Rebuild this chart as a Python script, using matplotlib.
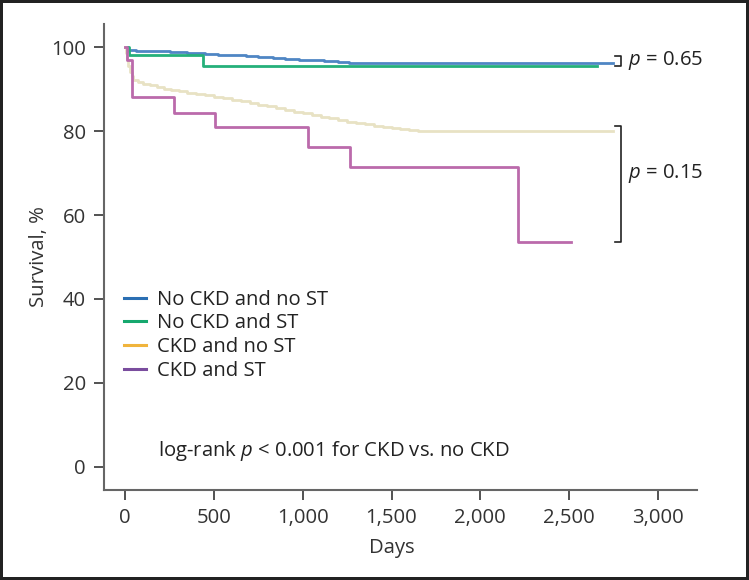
import matplotlib
matplotlib.use("Agg")
import matplotlib.pyplot as plt
from matplotlib.lines import Line2D

plt.rcParams['font.family'] = ['Open Sans', 'DejaVu Sans']
plt.rcParams['mathtext.fontset'] = 'custom'
plt.rcParams['mathtext.rm'] = 'Open Sans'
plt.rcParams['mathtext.it'] = 'Open Sans:italic'

# ---- data ----
labels = ["No CKD and no ST", "No CKD and ST", "CKD and no ST", "CKD and ST"]

blue_days = [0, 8, 15, 60, 150, 250, 350, 450, 520, 600, 680, 750, 830, 900, 980,
             1050, 1120, 1200, 1260, 1300, 2750]
blue_surv = [100, 99.5, 99.2, 99.1, 99.0, 98.8, 98.6, 98.4, 98.2, 98.0, 97.8, 97.6,
             97.4, 97.2, 97.0, 96.9, 96.7, 96.5, 96.3, 96.2, 96.2]

green_days = [0, 20, 440, 2655]
green_surv = [100, 98.1, 95.5, 95.5]

yellow_days = [0, 5, 10, 18, 25, 35, 45, 70, 100, 140, 180, 220, 260, 300, 350, 400,
               450, 500, 550, 600, 650, 700, 750, 800, 850, 900, 950, 1000, 1050,
               1100, 1150, 1200, 1250, 1300, 1350, 1400, 1450, 1500, 1550, 1600,
               1650, 1680, 2750]
yellow_surv = [100, 98.5, 97, 95.5, 94, 93, 92.1, 91.7, 91.3, 90.9, 90.5, 90.1,
               89.8, 89.5, 89.1, 88.8, 88.5, 88.2, 87.9, 87.5, 87.1, 86.7, 86.3,
               85.9, 85.4, 85.0, 84.6, 84.2, 83.8, 83.4, 83.0, 82.6, 82.2, 81.9,
               81.6, 81.3, 81.0, 80.7, 80.5, 80.3, 80.1, 80.0, 80.0]

purple_days = [0, 10, 37, 274, 505, 1028, 1265, 2212, 2510]
purple_surv = [100, 97, 88.0, 84.4, 80.9, 76.3, 71.5, 53.5, 53.5]

xticks = [0, 500, 1000, 1500, 2000, 2500, 3000]
xticklabels = ["0", "500", "1,000", "1,500", "2,000", "2,500", "3,000"]
yticks = [0, 20, 40, 60, 80, 100]

curve_colors = ["#4f86c4", "#25b07a", "#e8e2c4", "#bb6aab"]
legend_colors = ["#2b6fb3", "#16a86e", "#f0b43c", "#7a4d9e"]

FS = 14.6

# ---- figure ----
fig = plt.figure(figsize=(7.49, 5.80), dpi=100)
fig.patch.set_facecolor("white")
fig.patch.set_edgecolor("#222222")
fig.patch.set_linewidth(3)
ax = fig.add_axes([104/749, 1 - 490/580, (697-104)/749, (490-24)/580])

series = [(blue_days, blue_surv), (green_days, green_surv),
          (yellow_days, yellow_surv), (purple_days, purple_surv)]
order = [2, 3, 1, 0]
for i in order:
    d, s = series[i]
    ax.plot(d, s, drawstyle="steps-post", color=curve_colors[i], lw=2, zorder=3 + i)

ax.set_xlim(-120, 3221)
ax.set_ylim(-5.5, 105.5)
ax.set_xticks(xticks)
ax.set_xticklabels(xticklabels)
ax.set_yticks(yticks)

for sp in ["top", "right"]:
    ax.spines[sp].set_visible(False)
for sp in ["left", "bottom"]:
    ax.spines[sp].set_color("#666666")
    ax.spines[sp].set_linewidth(1.5)
ax.tick_params(axis="both", direction="out", length=7, width=1.3, color="#444444",
               labelsize=FS, labelcolor="#333333", pad=6)

ax.set_xlabel("Days", fontsize=FS, color="#333333")
ax.set_ylabel("Survival, %", fontsize=FS, color="#333333")
ax.xaxis.set_label_coords(0.485, -0.103)
ax.yaxis.set_label_coords(-0.093, 0.5)

handles = [Line2D([0], [0], color=c, lw=2.2) for c in legend_colors]
leg = ax.legend(handles, labels, loc="upper left", bbox_to_anchor=(0.009, 0.46),
                frameon=False, fontsize=FS, handlelength=1.1, handletextpad=0.55,
                labelspacing=0.18, borderaxespad=0.3)
for t in leg.get_texts():
    t.set_color("#222222")

ax.text(0.091, 0.084, r"log-rank $p$ < 0.001 for CKD vs. no CKD", transform=ax.transAxes,
        fontsize=FS, color="#222222", va="center", ha="left")

# brackets
bx = 2790
tick = 30
ax.plot([bx - tick, bx, bx, bx - tick], [97.8, 97.8, 95.5, 95.5], color="#222222",
        lw=1.2, clip_on=False)
ax.text(bx + 45, 96.8, r"$p$ = 0.65", fontsize=FS, color="#222222", va="center", ha="left")
ax.plot([bx - tick, bx, bx, bx - tick], [81.2, 81.2, 53.6, 53.6], color="#222222",
        lw=1.2, clip_on=False)
ax.text(bx + 45, 69.8, r"$p$ = 0.15", fontsize=FS, color="#222222", va="center", ha="left")

fig.savefig("out.png", dpi=100, facecolor=fig.get_facecolor(), edgecolor=fig.get_edgecolor())
